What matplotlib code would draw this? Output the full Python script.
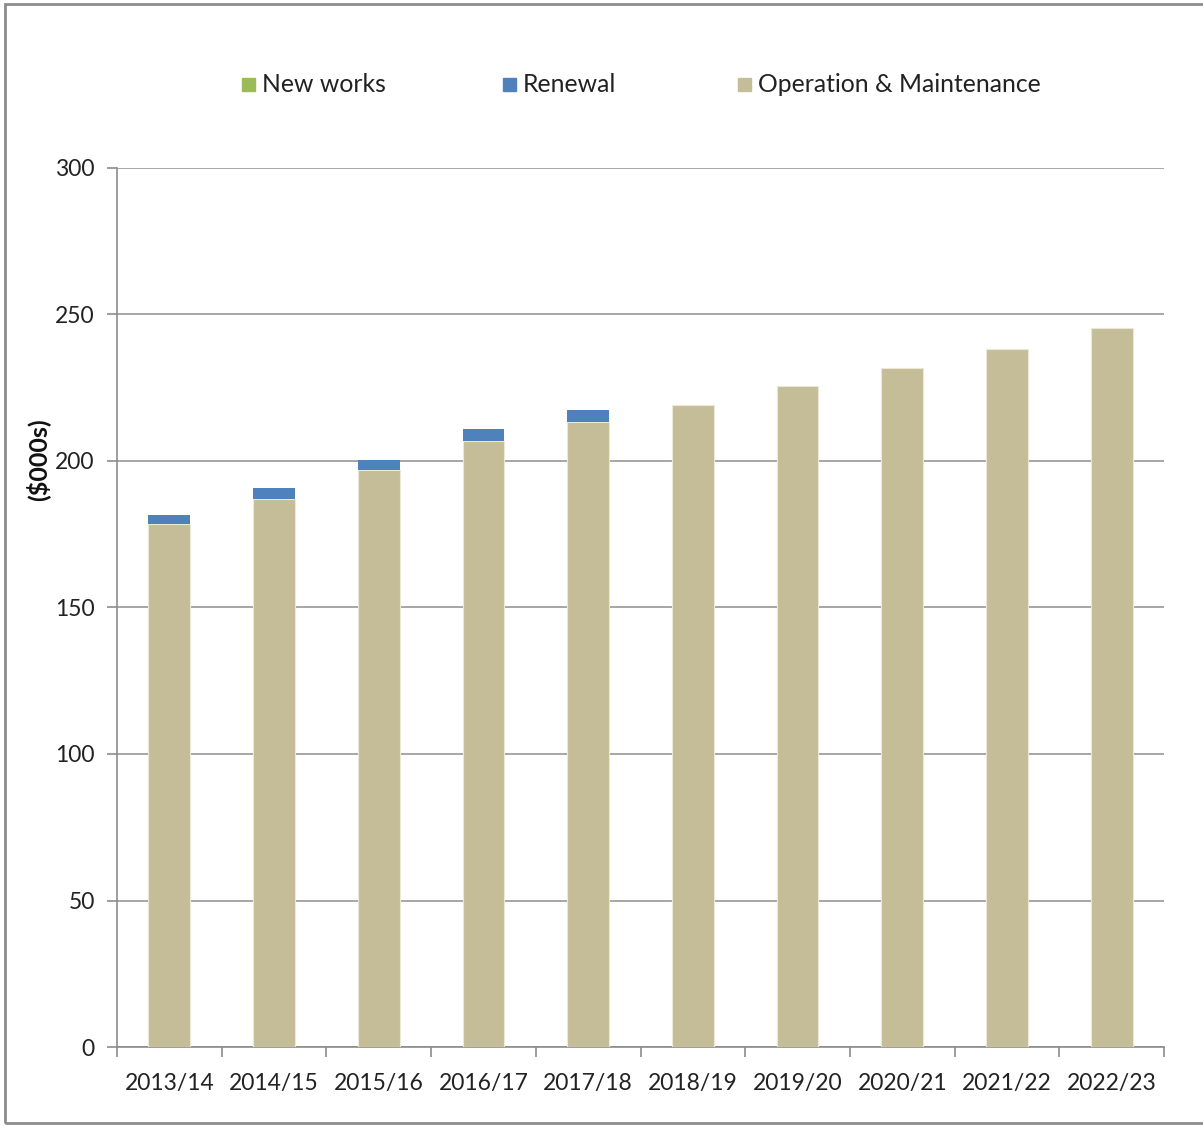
import matplotlib
matplotlib.use("Agg")
import matplotlib.pyplot as plt
from matplotlib.patches import Rectangle
import numpy as np

years = ["2013/14", "2014/15", "2015/16", "2016/17", "2017/18",
         "2018/19", "2019/20", "2020/21", "2021/22", "2022/23"]
operation_maintenance = [178.4, 187.1, 196.8, 206.8, 213.3,
                         219.1, 225.6, 231.7, 238.3, 245.3]
renewal = [3.1, 3.6, 3.4, 4.0, 4.0, 0, 0, 0, 0, 0]
new_works = [0, 0, 0, 0, 0, 0, 0, 0, 0, 0]
y_ticks = [0, 50, 100, 150, 200, 250, 300]

plt.rcParams['font.family'] = ['Lato', 'DejaVu Sans']

W, H = 1203, 1126
fig = plt.figure(figsize=(W / 100, H / 100), dpi=100)
ax = fig.add_axes([117 / W, 1 - 1047 / H, (1164 - 117) / W, (1047 - 168) / H])

# outer chart frame
fig.patches.append(Rectangle((5 / W, 3 / H), 1.2, (1122 - 3) / H, transform=fig.transFigure,
                             fill=False, edgecolor='#8c8c8c', linewidth=2))

x = np.arange(len(years))
c_om, c_ren, c_new = '#C4BD97', '#4F81BD', '#9BBB59'
bw = 0.4
om = np.array(operation_maintenance)
ren = np.array(renewal)
nw = np.array(new_works)
ax.bar(x, om, bw, color=c_om, edgecolor='#ebe8d8', linewidth=0.8, zorder=3,
       label='Operation & Maintenance')
ax.bar(x, ren, bw, bottom=om, color=c_ren, linewidth=0, zorder=3,
       label='Renewal')
ax.bar(x, nw, bw, bottom=om + ren, color=c_new, linewidth=0, zorder=3,
       label='New works')

ax.set_xlim(-0.5, len(years) - 0.5)
ax.set_ylim(0, 300)
ax.set_yticks(y_ticks)
ax.yaxis.grid(True, color='#a6a6a6', linewidth=1.4, zorder=0)
ax.set_axisbelow(True)

for s in ['top', 'right']:
    ax.spines[s].set_visible(False)
for s in ['left', 'bottom']:
    ax.spines[s].set_color('#8c8c8c')
    ax.spines[s].set_linewidth(1.2)

ax.set_xticks(np.arange(len(years) + 1) - 0.5)
ax.set_xticklabels([])
ax.set_xticks(x, minor=True)
ax.set_xticklabels(years, minor=True)
ax.tick_params(axis='x', which='major', length=7, color='#8c8c8c', width=1.2, direction='out')
ax.tick_params(axis='x', which='minor', length=0, pad=19, labelsize=16.5, labelcolor='#222222')
ax.tick_params(axis='y', length=7, color='#8c8c8c', width=1.2, pad=9,
               labelsize=16.5, labelcolor='#222222')

ax.set_ylabel('($000s)', fontsize=18, fontweight='bold', color='#111111')
ax.yaxis.set_label_coords(-67 / (1164 - 117), (1047 - 460) / (1047 - 168))

# legend row across the top
legend_items = [('New works', c_new, 242), ('Renewal', c_ren, 503),
                ('Operation & Maintenance', c_om, 738)]
for label, col, px in legend_items:
    fig.patches.append(Rectangle((px / W, 1 - 91 / H), 13 / W, 13 / H,
                                 transform=fig.transFigure, color=col))
    fig.text((px + 20) / W, 1 - 85 / H, label, fontsize=17.8, va='center', ha='left',
             color='#222222')

fig.savefig('out.png', dpi=100)
